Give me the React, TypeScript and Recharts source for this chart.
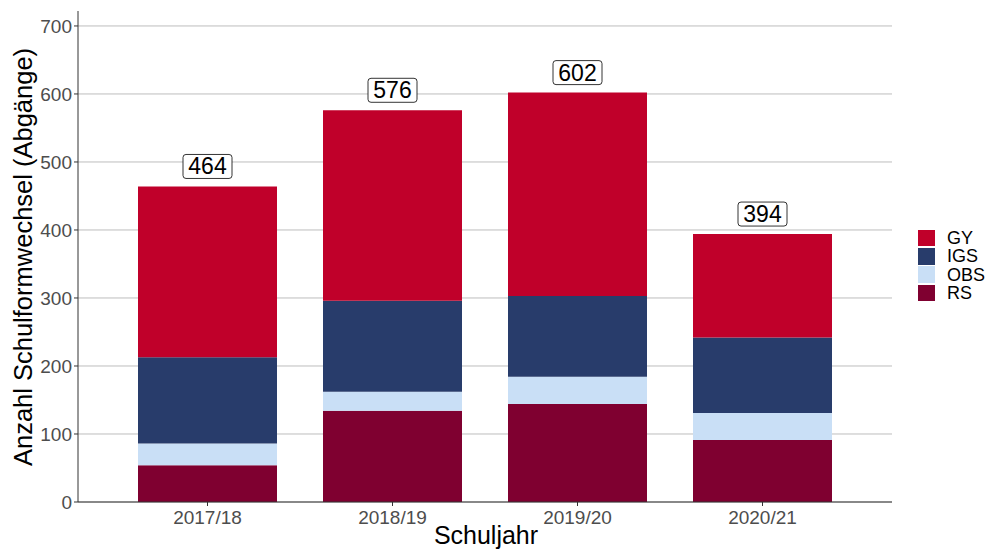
import React from 'react'
import { BarChart, Bar, XAxis, YAxis, CartesianGrid, LabelList } from 'recharts'

const years = ['2017/18', '2018/19', '2019/20', '2020/21']
const rs = [54, 134, 144, 91]
const obs = [32, 28, 40, 40]
const igs = [127, 134, 119, 111]
const gy = [251, 280, 299, 152]
const yTicks = [0, 100, 200, 300, 400, 500, 600, 700]

const series = [
  { key: 'GY', color: '#c0002a' },
  { key: 'IGS', color: '#283c6b' },
  { key: 'OBS', color: '#c9dff6' },
  { key: 'RS', color: '#7f0030' },
]

const data = years.map((year, i) => ({
  year,
  RS: rs[i],
  OBS: obs[i],
  IGS: igs[i],
  GY: gy[i],
  total: rs[i] + obs[i] + igs[i] + gy[i],
}))

const font = '"Liberation Sans", Arial, sans-serif'

const TotalLabel = (props: any) => {
  const { x, y, width, value } = props
  const cx = x + width / 2
  return (
    <g>
      <rect x={cx - 24.5} y={y - 32} width={49} height={24} rx={3} fill="#fff" stroke="#000" strokeWidth={0.8} />
      <text x={cx} y={y - 12} textAnchor="middle" fontSize={23} fontFamily={font} fill="#000">
        {value}
      </text>
    </g>
  )
}

const App = () => {
  const colorOf = (k: string) => series.find((s) => s.key === k)!.color
  return (
    <div style={{ position: 'absolute', left: 0, top: 0, width: 989, height: 550, background: '#fff', fontFamily: font }}>
      <BarChart width={989} height={550} data={data} margin={{ top: 11, right: 97, left: 0, bottom: 0 }} barCategoryGap={23}>
        <CartesianGrid vertical={false} horizontalValues={yTicks} stroke="#bdbdbd" strokeWidth={1} />
        <XAxis
          dataKey="year"
          height={48}
          padding={{ left: 37, right: 37 }}
          axisLine={{ stroke: '#333' }}
          tickLine={{ stroke: '#333' }}
          tickSize={4}
          tickMargin={5}
          tick={{ fontSize: 19, fill: '#4d4d4d', fontFamily: font }}
          label={{
            content: () => (
              <text x={486} y={544} textAnchor="middle" fontSize={25} fontFamily={font} fill="#000">
                Schuljahr
              </text>
            ),
          }}
        />
        <YAxis
          width={78}
          domain={[0, 722]}
          ticks={yTicks}
          interval={0}
          axisLine={{ stroke: '#333' }}
          tickLine={{ stroke: '#333' }}
          tickSize={4}
          tickMargin={2}
          tick={{ fontSize: 19, fill: '#4d4d4d', fontFamily: font }}
          label={{
            content: () => (
              <text
                x={32}
                y={257}
                transform="rotate(-90 32 257)"
                textAnchor="middle"
                fontSize={25.5}
                fontFamily={font}
                fill="#000"
              >
                Anzahl Schulformwechsel (Abgänge)
              </text>
            ),
          }}
        />
        <Bar dataKey="RS" stackId="a" fill={colorOf('RS')} isAnimationActive={false} />
        <Bar dataKey="OBS" stackId="a" fill={colorOf('OBS')} isAnimationActive={false} />
        <Bar dataKey="IGS" stackId="a" fill={colorOf('IGS')} isAnimationActive={false} />
        <Bar dataKey="GY" stackId="a" fill={colorOf('GY')} isAnimationActive={false}>
          <LabelList dataKey="total" content={TotalLabel} />
        </Bar>
      </BarChart>
      <div style={{ position: 'absolute', left: 918, top: 229 }}>
        {series.map((s) => (
          <div key={s.key} style={{ display: 'flex', alignItems: 'center', height: 18.3 }}>
            <div style={{ width: 17, height: 16.5, background: s.color }} />
            <span style={{ marginLeft: 12, fontSize: 18, color: '#000', lineHeight: '18px' }}>{s.key}</span>
          </div>
        ))}
      </div>
    </div>
  )
}

export default App
